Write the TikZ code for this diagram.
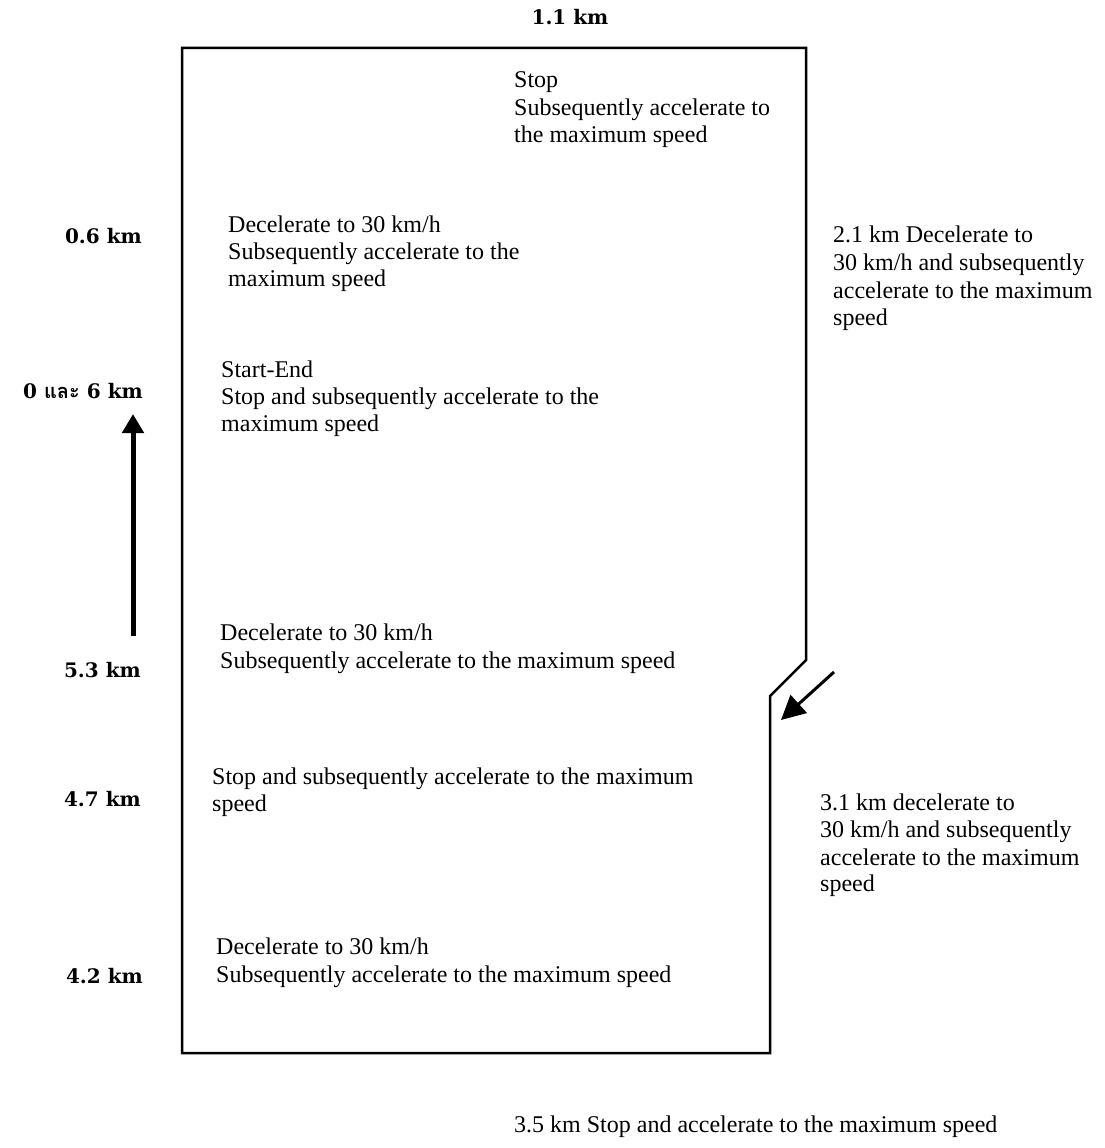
\documentclass[tikz,border=0pt]{standalone}
\usepackage{fontspec}
\setmainfont{Liberation Serif}
\newfontfamily\labelfont{DejaVu Serif}
\newfontfamily\thaifont[Script=Thai]{Loma}
\usetikzlibrary{arrows.meta}
\begin{document}
\begin{tikzpicture}[x=1pt,y=-1pt,
  txt/.style={font=\fontsize{24}{27.5}\selectfont, anchor=base west, inner sep=0pt},
  lbl/.style={font=\labelfont\bfseries\fontsize{20}{23}\selectfont, anchor=base east, inner sep=0pt},
  border/.style={line width=2.5pt, line join=miter},
  bigarrow/.style={line width=5pt, -{Triangle[width=21pt,length=19pt]}},
  smallarrow/.style={line width=3pt, -{Triangle[width=24pt,length=24pt]}}]
\useasboundingbox (0,0) rectangle (1104,1148);

% route outline
\coordinate (tl) at (182,48);
\coordinate (tr) at (806,48);
\coordinate (n1) at (806,660);
\coordinate (n2) at (770,696);
\coordinate (br) at (770,1053);
\coordinate (bl) at (182,1053);
\draw[border] (tl) -- (tr) -- (n1) -- (n2) -- (br) -- (bl) -- cycle;

% arrows
\coordinate (a1s) at (133,636);
\coordinate (a1e) at (133,414);
\draw[bigarrow] (a1s) -- (a1e);
\coordinate (a2s) at (834,672);
\coordinate (a2e) at (781,720);
\draw[smallarrow] (a2s) -- (a2e);

% distance labels
\node[lbl, anchor=base] (k11) at (570,25) {1.1 km};
\node[lbl] (k06) at (142,243) {0.6 km};
\node[lbl] (k0) at (143,398) {0 {\thaifont\bfseries และ} 6 km};
\node[lbl] (k53) at (141,677) {5.3 km};
\node[lbl] (k47) at (141,806) {4.7 km};
\node[lbl] (k42) at (143,983) {4.2 km};

% texts
\node[txt] (s1) at (514,88) {Stop};
\node[txt] (s2) at (514,115) {Subsequently accelerate to};
\node[txt] (s3) at (514,142) {the maximum speed};

\node[txt] (d1) at (228,232) {Decelerate to 30 km/h};
\node[txt] (d2) at (228,259) {Subsequently accelerate to the};
\node[txt] (d3) at (228,286) {maximum speed};

\node[txt] (r1) at (833,242) {2.1 km Decelerate to};
\node[txt] (r2) at (833,270) {30 km/h and subsequently};
\node[txt] (r3) at (833,298) {accelerate to the maximum};
\node[txt] (r4) at (833,325) {speed};

\node[txt] (e1) at (221,377) {Start-End};
\node[txt] (e2) at (221,404) {Stop and subsequently accelerate to the};
\node[txt] (e3) at (221,431) {maximum speed};

\node[txt] (f1) at (220,640) {Decelerate to 30 km/h};
\node[txt] (f2) at (220,668) {Subsequently accelerate to the maximum speed};

\node[txt] (g1) at (212,784) {Stop and subsequently accelerate to the maximum};
\node[txt] (g2) at (212,811) {speed};

\node[txt] (t1) at (820,810) {3.1 km decelerate to};
\node[txt] (t2) at (820,837) {30 km/h and subsequently};
\node[txt] (t3) at (820,865) {accelerate to the maximum};
\node[txt] (t4) at (820,891) {speed};

\node[txt] (h1) at (216,954) {Decelerate to 30 km/h};
\node[txt] (h2) at (216,982) {Subsequently accelerate to the maximum speed};

\node[txt] (b1) at (514,1132) {3.5 km Stop and accelerate to the maximum speed};
\end{tikzpicture}
\end{document}
